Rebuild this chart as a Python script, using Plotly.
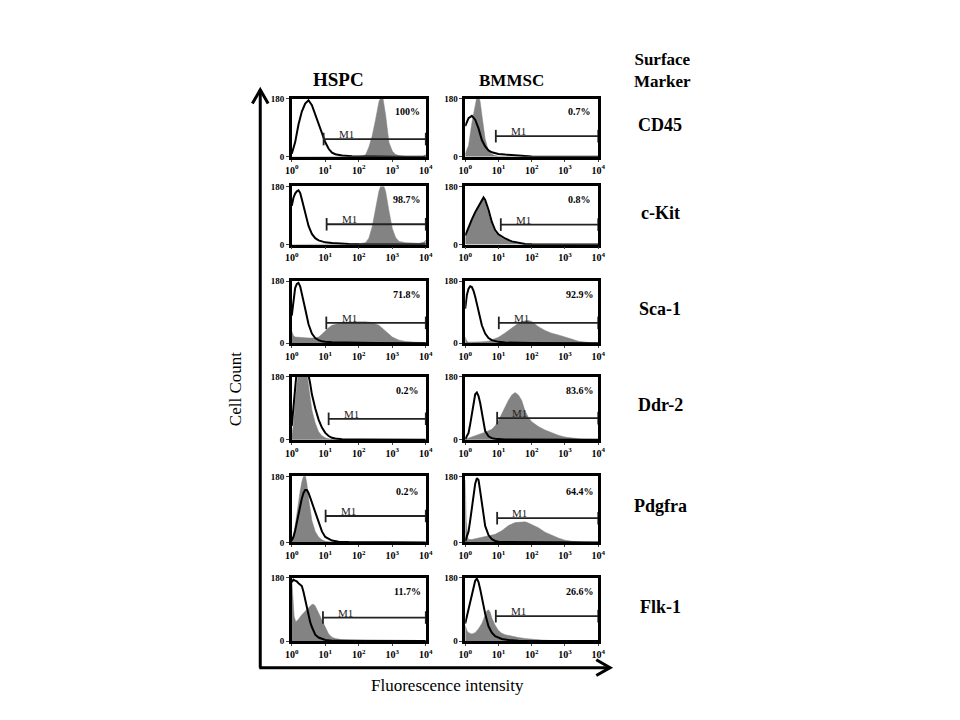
import numpy as np
import plotly.graph_objects as go

# Flow cytometry overlays: HSPC vs BMMSC, six surface markers
MARKERS = ['CD45', 'c-Kit', 'Sca-1', 'Ddr-2', 'Pdgfra', 'Flk-1']
CELL_TYPES = ['HSPC', 'BMMSC']

# percent positive in gate M1, row by row (HSPC, BMMSC)
PERCENT = ['100%', '0.7%', '98.7%', '0.8%', '71.8%', '92.9%',
           '0.2%', '83.6%', '0.2%', '64.4%', '11.7%', '26.6%']
# gate M1: start (log10 intensity) and drawing level (cell count)
M1_START = [0.95, 0.92, 1.04, 1.07, 1.03, 1.01, 1.10, 0.96, 1.01, 0.96, 0.93, 0.92]
M1_LEVEL = [55, 64, 63, 62, 59, 59, 60, 62, 72, 66, 67, 71]

X_TICKS = [1, 10, 100, 1000, 10000]
X_TICKTEXT = ['10<sup>0</sup>', '10<sup>1</sup>', '10<sup>2</sup>', '10<sup>3</sup>', '10<sup>4</sup>']
Y_MAX = 180

# digitised histograms: (log10 intensity, cell count)
# iso = open black control curve, stain = grey filled curve
hspc_cd45_iso = ([0, 0.1, 0.2, 0.3, 0.4, 0.5, 0.6, 0.7, 0.8, 0.9, 1.0, 1.1, 1.2, 1.3, 1.5, 1.8, 2.2, 3.0, 4.0],
                 [10, 45, 100, 140, 165, 175, 160, 130, 100, 72, 45, 25, 13, 8, 4, 2, 1, 0.5, 0])
hspc_cd45_stain = ([0, 1.8, 2.0, 2.1, 2.2, 2.3, 2.4, 2.5, 2.6, 2.7, 2.8, 2.9, 3.0, 3.1, 3.2, 3.4, 3.9, 3.97, 4.0],
                   [0, 0, 1, 3, 6, 30, 65, 115, 170, 195, 130, 45, 18, 7, 4, 1, 0.5, 5, 8])

bmmsc_cd45_iso = ([0, 0.05, 0.1, 0.2, 0.3, 0.4, 0.5, 0.6, 0.7, 0.8, 0.9, 1.0, 1.2, 1.4, 1.6, 1.8, 2.0, 2.5, 4.0],
                  [95, 110, 120, 127, 115, 88, 52, 32, 20, 14, 11, 9, 7, 5, 3, 2, 1, 0.5, 0])
bmmsc_cd45_stain = ([0, 0.1, 0.2, 0.3, 0.35, 0.4, 0.45, 0.5, 0.6, 0.7, 0.8, 0.9, 1.0, 1.2, 1.5, 4.0],
                    [10, 35, 105, 165, 185, 190, 170, 130, 55, 18, 8, 4, 2, 1, 0.5, 0])

hspc_ckit_iso = ([0, 0.05, 0.1, 0.15, 0.2, 0.25, 0.3, 0.4, 0.5, 0.6, 0.7, 0.8, 0.9, 1.0, 1.2, 1.4, 1.7, 2.0, 2.5, 4.0],
                 [120, 145, 158, 165, 168, 160, 140, 95, 58, 33, 20, 13, 9, 7, 5, 3, 2, 1, 0.5, 0])
hspc_ckit_stain = ([0, 1.7, 2.0, 2.2, 2.3, 2.4, 2.5, 2.6, 2.7, 2.8, 2.9, 3.0, 3.1, 3.2, 3.4, 3.6, 3.8, 3.95, 4.0],
                   [0, 1, 3, 6, 20, 55, 110, 165, 195, 165, 105, 50, 22, 10, 6, 5, 4, 8, 14])

bmmsc_ckit_iso = ([0, 0.1, 0.2, 0.3, 0.4, 0.5, 0.55, 0.6, 0.7, 0.8, 0.9, 1.0, 1.1, 1.2, 1.4, 1.6, 1.8, 2.0, 4.0],
                  [28, 55, 78, 100, 120, 140, 146, 138, 108, 70, 45, 32, 25, 19, 10, 5, 2, 1, 0])
bmmsc_ckit_stain = ([0, 0.1, 0.2, 0.3, 0.4, 0.5, 0.55, 0.6, 0.7, 0.8, 0.9, 1.0, 1.1, 1.2, 1.4, 1.6, 2.0, 4.0],
                    [20, 50, 72, 95, 115, 135, 140, 130, 98, 62, 38, 28, 21, 16, 8, 3, 1, 0])

hspc_sca1_iso = ([0, 0.05, 0.1, 0.15, 0.2, 0.25, 0.3, 0.4, 0.5, 0.6, 0.7, 0.8, 0.9, 1.0, 1.2, 1.5, 2.0, 2.5, 4.0],
                 [80, 130, 160, 172, 175, 165, 145, 100, 55, 28, 15, 9, 6, 4, 3, 2, 1, 0.5, 0])
hspc_sca1_stain = ([0, 0.05, 0.1, 0.3, 0.5, 0.7, 0.8, 0.9, 1.0, 1.1, 1.2, 1.4, 1.6, 1.8, 2.0, 2.2, 2.4, 2.6,
                    2.8, 3.0, 3.2, 3.4, 3.7, 4.0],
                   [35, 22, 18, 16, 15, 15, 18, 26, 36, 45, 52, 57, 59, 61, 62, 62, 60, 52, 34, 18, 9, 5, 3, 2])

bmmsc_sca1_iso = ([0, 0.05, 0.1, 0.15, 0.2, 0.25, 0.3, 0.4, 0.5, 0.6, 0.7, 0.8, 0.9, 1.0, 1.2, 1.5, 2.0, 4.0],
                  [100, 140, 158, 165, 163, 152, 135, 92, 52, 28, 15, 9, 6, 4, 2, 1, 0.5, 0])
bmmsc_sca1_stain = ([0, 0.05, 0.1, 0.3, 0.5, 0.7, 0.9, 1.0, 1.2, 1.4, 1.6, 1.8, 1.9, 2.0, 2.2, 2.4, 2.6, 2.8,
                     3.0, 3.2, 3.4, 3.6, 3.8, 4.0],
                    [18, 6, 3, 3, 4, 6, 12, 17, 30, 45, 58, 65, 66, 63, 48, 37, 29, 24, 19, 12, 6, 3, 1, 0.5])

hspc_ddr2_iso = ([0, 0.05, 0.1, 0.15, 0.2, 0.3, 0.4, 0.5, 0.55, 0.6, 0.7, 0.8, 0.9, 1.0, 1.1, 1.2, 1.3, 1.5, 2.0, 4.0],
                 [40, 100, 160, 200, 215, 220, 210, 185, 160, 130, 90, 58, 35, 20, 11, 6, 4, 2, 1, 0])
hspc_ddr2_stain = ([0, 0.05, 0.1, 0.15, 0.2, 0.3, 0.4, 0.45, 0.5, 0.55, 0.6, 0.7, 0.8, 0.9, 1.0, 1.1, 1.3, 1.6, 4.0],
                   [10, 45, 110, 170, 200, 215, 205, 190, 150, 112, 85, 48, 23, 12, 6, 3, 1, 0.5, 0])

bmmsc_ddr2_iso = ([0, 0.1, 0.15, 0.2, 0.25, 0.3, 0.35, 0.4, 0.45, 0.5, 0.55, 0.6, 0.7, 0.8, 0.9, 1.0, 1.2, 4.0],
                  [2, 20, 45, 77, 110, 130, 135, 125, 105, 75, 45, 25, 10, 5, 3, 2, 1, 0])
bmmsc_ddr2_stain = ([0, 0.2, 0.4, 0.6, 0.8, 0.9, 1.0, 1.1, 1.2, 1.3, 1.4, 1.5, 1.6, 1.7, 1.8, 1.9, 2.0, 2.2,
                     2.4, 2.6, 2.8, 3.0, 3.2, 3.5, 4.0],
                    [2, 8, 15, 22, 30, 40, 55, 75, 95, 113, 128, 135, 128, 112, 82, 64, 52, 38, 28, 20, 13, 8, 5, 2, 1])

hspc_pdgfra_iso = ([0, 0.05, 0.1, 0.15, 0.2, 0.25, 0.3, 0.35, 0.4, 0.45, 0.5, 0.55, 0.6, 0.7, 0.8, 0.9, 1.0,
                    1.1, 1.2, 1.4, 1.7, 4.0],
                   [5, 15, 32, 55, 80, 102, 120, 135, 143, 143, 135, 122, 108, 80, 52, 30, 15, 9, 5, 2, 1, 0])
hspc_pdgfra_stain = ([0, 0.05, 0.1, 0.15, 0.2, 0.25, 0.3, 0.35, 0.4, 0.45, 0.5, 0.55, 0.6, 0.7, 0.8, 0.9, 1.0, 1.2, 4.0],
                     [5, 20, 45, 80, 115, 140, 165, 180, 185, 160, 120, 85, 60, 30, 15, 7, 3, 1, 0])

bmmsc_pdgfra_iso = ([0, 0.1, 0.15, 0.2, 0.25, 0.3, 0.35, 0.4, 0.45, 0.5, 0.55, 0.6, 0.7, 0.8, 0.9, 1.0, 1.2, 4.0],
                    [3, 30, 60, 90, 125, 160, 175, 170, 140, 105, 70, 45, 20, 9, 4, 2, 1, 0])
bmmsc_pdgfra_stain = ([0, 0.03, 0.07, 0.1, 0.2, 0.3, 0.5, 0.7, 0.9, 1.1, 1.3, 1.5, 1.7, 1.8, 1.9, 2.0, 2.2,
                       2.4, 2.6, 2.8, 3.0, 3.2, 3.5, 4.0],
                      [170, 60, 15, 8, 8, 10, 14, 18, 22, 32, 46, 54, 56, 56, 53, 49, 40, 28, 19, 12, 6, 3, 1, 0])

hspc_flk1_iso = ([0, 0.05, 0.1, 0.15, 0.2, 0.25, 0.3, 0.35, 0.4, 0.45, 0.5, 0.55, 0.6, 0.7, 0.8, 0.9, 1.0,
                  1.2, 1.5, 4.0],
                 [168, 175, 172, 170, 165, 162, 157, 140, 119, 95, 72, 54, 40, 18, 10, 6, 3, 1, 0.5, 0])
hspc_flk1_stain = ([0, 0.03, 0.07, 0.12, 0.2, 0.3, 0.4, 0.5, 0.6, 0.65, 0.7, 0.8, 0.9, 1.0, 1.1, 1.2, 1.3,
                    1.5, 1.7, 2.0, 2.5, 4.0],
                   [175, 120, 70, 55, 62, 75, 86, 95, 104, 105, 100, 80, 58, 38, 20, 11, 7, 4, 3, 1, 0.5, 0])

bmmsc_flk1_iso = ([0, 0.05, 0.1, 0.15, 0.2, 0.25, 0.3, 0.35, 0.4, 0.45, 0.5, 0.55, 0.6, 0.7, 0.8, 0.9, 1.0,
                   1.1, 1.3, 1.6, 4.0],
                  [50, 70, 90, 110, 135, 158, 172, 178, 168, 148, 125, 100, 78, 42, 24, 14, 9, 6, 3, 1, 0])
bmmsc_flk1_stain = ([0, 0.05, 0.1, 0.2, 0.3, 0.4, 0.5, 0.6, 0.65, 0.7, 0.75, 0.8, 0.9, 1.0, 1.1, 1.2, 1.4,
                     1.6, 1.8, 2.0, 2.3, 2.6, 3.0, 4.0],
                    [45, 30, 24, 20, 24, 35, 50, 75, 86, 89, 82, 66, 45, 30, 22, 18, 13, 10, 7, 5, 3, 1.5, 0.5, 0])

PANELS = [
    (hspc_cd45_iso, hspc_cd45_stain), (bmmsc_cd45_iso, bmmsc_cd45_stain),
    (hspc_ckit_iso, hspc_ckit_stain), (bmmsc_ckit_iso, bmmsc_ckit_stain),
    (hspc_sca1_iso, hspc_sca1_stain), (bmmsc_sca1_iso, bmmsc_sca1_stain),
    (hspc_ddr2_iso, hspc_ddr2_stain), (bmmsc_ddr2_iso, bmmsc_ddr2_stain),
    (hspc_pdgfra_iso, hspc_pdgfra_stain), (bmmsc_pdgfra_iso, bmmsc_pdgfra_stain),
    (hspc_flk1_iso, hspc_flk1_stain), (bmmsc_flk1_iso, bmmsc_flk1_stain),
]

W, H = 960, 720
SERIF = 'Liberation Serif'
GREY = '#838383'

# panel boxes in pixels
COL_X = [(289, 425), (465, 600)]
ROW_Y = [(95, 154), (184, 243), (280, 343), (377, 441), (478, 545), (581, 645)]


def px(x):
    return x / W


def py(y):
    return 1 - y / H


def label(x, y, text, size, **kw):
    # free text placed in pixel coordinates, centred
    return dict(xref='paper', yref='paper', x=px(x), y=py(y), text=text, showarrow=False,
                xanchor='center', yanchor='middle',
                font=dict(family=SERIF, size=size, color='black'), **kw)


fig = go.Figure()
layout = dict(width=W, height=H, margin=dict(l=0, r=0, t=0, b=0),
              paper_bgcolor='white', plot_bgcolor='white', showlegend=False)
annotations = []
shapes = []

for i, (iso, stain) in enumerate(PANELS):
    row, col = divmod(i, 2)
    n = i + 1
    xa = 'x' if n == 1 else 'x%d' % n
    ya = 'y' if n == 1 else 'y%d' % n
    x0, x1 = COL_X[col]
    y0, y1 = ROW_Y[row]

    fig.add_trace(go.Scatter(x=10 ** np.array(stain[0]), y=stain[1], xaxis=xa, yaxis=ya,
                             mode='lines', fill='tozeroy', fillcolor=GREY,
                             line=dict(color=GREY, width=0.5), hoverinfo='skip'))
    fig.add_trace(go.Scatter(x=10 ** np.array(iso[0]), y=iso[1], xaxis=xa, yaxis=ya,
                             mode='lines', line=dict(color='black', width=2), hoverinfo='skip'))
    # M1 gate bar
    fig.add_trace(go.Scatter(x=[10 ** M1_START[i], 10 ** 4], y=[M1_LEVEL[i], M1_LEVEL[i]],
                             xaxis=xa, yaxis=ya, mode='lines+markers', cliponaxis=False,
                             line=dict(color='#222222', width=1.8),
                             marker=dict(symbol='line-ns', size=9,
                                         line=dict(color='#222222', width=1.8)),
                             hoverinfo='skip'))

    layout['xaxis' if n == 1 else 'xaxis%d' % n] = dict(
        domain=[px(x0), px(x1)], anchor=ya, type='log', range=[0, 4],
        tickvals=X_TICKS, ticktext=X_TICKTEXT, ticks='outside', ticklen=2,
        showline=True, mirror=True, linecolor='black', linewidth=2.5,
        showgrid=False, zeroline=False,
        tickfont=dict(family=SERIF, size=10, color='black', weight='bold'))
    layout['yaxis' if n == 1 else 'yaxis%d' % n] = dict(
        domain=[py(y1), py(y0)], anchor=xa, range=[0, Y_MAX],
        tickvals=[0, Y_MAX], ticktext=['0', str(Y_MAX)], ticks='outside', ticklen=3,
        showline=True, mirror=True, linecolor='black', linewidth=2.5,
        showgrid=False, zeroline=False,
        tickfont=dict(family=SERIF, size=9, color='black', weight='bold'))

    annotations.append(dict(xref=xa, yref=ya, x=3.45, y=140, text=PERCENT[i], showarrow=False,
                            xanchor='center', yanchor='middle',
                            font=dict(family=SERIF, size=10, color='black', weight='bold')))
    annotations.append(dict(xref=xa, yref=ya, x=M1_START[i] + 0.68, y=M1_LEVEL[i],
                            xanchor='center', yanchor='bottom', yshift=-3, text='M1',
                            showarrow=False, font=dict(family=SERIF, size=11, color='#222222')))

# column headers, marker names
annotations.append(label(336, 76, '<b>%s</b>' % CELL_TYPES[0], 19))
annotations.append(label(512, 77, '<b>%s</b>' % CELL_TYPES[1], 17))
annotations.append(label(665, 66, '<b>Surface<br>Marker</b>', 17))
for row, name in enumerate(MARKERS):
    yc = (ROW_Y[row][0] + ROW_Y[row][1]) / 2
    annotations.append(label(663, yc - 3, '<b>%s</b>' % name, 18))

annotations.append(label(232, 390, 'Cell Count', 17, textangle=-90))
annotations.append(label(447, 690, 'Fluorescence intensity', 17))

# L-shaped axis arrows
ax_line = dict(color='black', width=3)
shapes.append(dict(type='line', xref='paper', yref='paper', x0=px(257), y0=py(672),
                   x1=px(257), y1=py(86), line=ax_line))
shapes.append(dict(type='line', xref='paper', yref='paper', x0=px(256), y0=py(672),
                   x1=px(612), y1=py(672), line=ax_line))
shapes.append(dict(type='path', xref='paper', yref='paper',
                   path='M %f %f L %f %f L %f %f' % (px(249), py(100), px(257), py(86), px(265), py(100)),
                   line=ax_line))
shapes.append(dict(type='path', xref='paper', yref='paper',
                   path='M %f %f L %f %f L %f %f' % (px(598), py(664), px(612), py(672), px(598), py(680)),
                   line=ax_line))

layout['annotations'] = annotations
layout['shapes'] = shapes
fig.update_layout(**layout)
fig.write_html('out.html', config={'displayModeBar': False},
               post_script="document.body.style.margin='0';")
